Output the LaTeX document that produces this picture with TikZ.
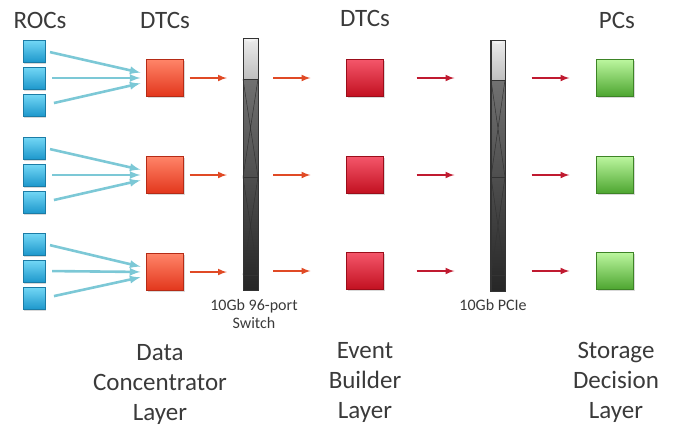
\documentclass[tikz,border=0pt]{standalone}
\usepackage{fontspec}
\setmainfont{Carlito}
\usetikzlibrary{arrows,shadows}
\definecolor{roctop}{HTML}{74D8F6}
\definecolor{rocbot}{HTML}{1E98CC}
\definecolor{rocedge}{HTML}{1B7CA6}
\definecolor{dtctop}{HTML}{FF8468}
\definecolor{dtcbot}{HTML}{E2361C}
\definecolor{ebtop}{HTML}{F4566A}
\definecolor{ebbot}{HTML}{C21020}
\definecolor{pctop}{HTML}{BCF69E}
\definecolor{pcbot}{HTML}{4CA530}
\definecolor{bluearr}{HTML}{7CC8D6}
\definecolor{orarr}{HTML}{E04A25}
\definecolor{redarr}{HTML}{C01A30}
\definecolor{txt}{HTML}{3A3A3A}
\tikzset{
  box/.style={rectangle,inner sep=0pt,line width=0.3pt,
    drop shadow={shadow xshift=1pt,shadow yshift=-1.5pt,opacity=0.3}},
  roc/.style={box,minimum size=22pt,draw=rocedge,top color=roctop,bottom color=rocbot},
  dtc/.style={box,minimum size=37pt,draw=dtcbot!80!black,top color=dtctop,bottom color=dtcbot},
  ebdtc/.style={box,minimum size=37pt,draw=ebbot!80!black,top color=ebtop,bottom color=ebbot},
  pcbox/.style={box,minimum size=37pt,draw=pcbot!80!black,top color=pctop,bottom color=pcbot},
  switchbox/.style={rectangle,inner sep=0pt,minimum width=15pt,draw=black!80,line width=0.4pt,
    top color=black!50,bottom color=black!85},
  swline/.style={black!80,line width=0.5pt},
  blue arrow/.style={bluearr,line width=2.6pt,-latex,shorten >=6pt},
  or arrow/.style={orarr,line width=2pt,-latex},
  red arrow/.style={redarr,line width=2pt,-latex},
  head/.style={text=txt,font=\fontsize{25}{30}\selectfont},
  layer/.style={text=txt,align=center,font=\fontsize{25}{30}\selectfont},
  small/.style={text=txt,align=center,font=\fontsize{16}{18}\selectfont}
}
\begin{document}
\begin{tikzpicture}[x=1pt,y=-1pt]
  \useasboundingbox (0,0) rectangle (688,432);
  % headings
  \node[head] (hroc) at (40,20) {ROCs};
  \node[head] (hdtc) at (165,20) {DTCs};
  \node[head] (heb) at (365,18) {DTCs};
  \node[head] (hpc) at (617,20) {PCs};
  % readout controllers
  \node[roc] (r11) at (34,51) {};
  \node[roc] (r12) at (34,78) {};
  \node[roc] (r13) at (34,105) {};
  \node[roc] (r21) at (34,148) {};
  \node[roc] (r22) at (34,175) {};
  \node[roc] (r23) at (34,202) {};
  \node[roc] (r31) at (34,244) {};
  \node[roc] (r32) at (34,271) {};
  \node[roc] (r33) at (34,298) {};
  % data concentrators
  \node[dtc] (d1) at (165,78) {};
  \node[dtc] (d2) at (165,175) {};
  \node[dtc] (d3) at (165,272) {};
  % event builders
  \node[ebdtc] (e1) at (365,78) {};
  \node[ebdtc] (e2) at (365,175) {};
  \node[ebdtc] (e3) at (365,271) {};
  % storage pcs
  \node[pcbox] (p1) at (615,78) {};
  \node[pcbox] (p2) at (615,175) {};
  \node[pcbox] (p3) at (615,271) {};
  % switches
  \node[switchbox,minimum height=252pt] (sw1) at (250.5,164) {};
  \fill[top color=gray!15,bottom color=gray!50] (243,38) rectangle (258,79);
  \fill[white!90!gray] (243.6,38.4) .. controls (247,43) and (254,43) .. (257.4,38.4) -- cycle;
  \draw[black!80,line width=0.4pt] (243,38) rectangle (258,290);
  \draw[swline] (243,79) -- (258,79) (243,177) -- (258,177) (243,275) -- (258,275);
  \draw[swline] (243,79) -- (258,177) (258,79) -- (243,177);
  \draw[swline] (243,177) -- (258,275) (258,177) -- (243,275);
  \node[switchbox,minimum height=251pt] (sw2) at (498,165.5) {};
  \fill[top color=gray!15,bottom color=gray!50] (491,40) rectangle (505,80);
  \fill[white!90!gray] (491.6,40.4) .. controls (495,45) and (501,45) .. (504.4,40.4) -- cycle;
  \draw[black!80,line width=0.4pt] (491,40) rectangle (505,291);
  \draw[swline] (491,80) -- (505,80) (491,177) -- (505,177) (491,275) -- (505,275);
  \draw[swline] (491,80) -- (505,177) (505,80) -- (491,177);
  \draw[swline] (491,177) -- (505,275) (505,177) -- (491,275);
  \node[small] (lsw1) at (254,314) {10Gb 96-port\\Switch};
  \node[small] (lsw2) at (493,305) {10Gb PCIe};
  % roc links
  \draw[blue arrow,shorten <=5pt] (r11.east) -- ([yshift=4pt]d1.west);
  \draw[blue arrow,shorten <=7pt] (r12.east) -- (d1.west);
  \draw[blue arrow,shorten <=9pt] (r13.east) -- ([yshift=-4pt]d1.west);
  \draw[blue arrow,shorten <=5pt] (r21.east) -- ([yshift=4pt]d2.west);
  \draw[blue arrow,shorten <=7pt] (r22.east) -- (d2.west);
  \draw[blue arrow,shorten <=9pt] (r23.east) -- ([yshift=-4pt]d2.west);
  \draw[blue arrow,shorten <=5pt] (r31.east) -- ([yshift=4pt]d3.west);
  \draw[blue arrow,shorten <=7pt] (r32.east) -- (d3.west);
  \draw[blue arrow,shorten <=9pt] (r33.east) -- ([yshift=-4pt]d3.west);
  % concentrator to switch to builder
  \draw[or arrow,shorten <=6pt,shorten >=16pt] (d1.east) -- (d1.east -| sw1.west);
  \draw[or arrow,shorten <=6pt,shorten >=16pt] (d2.east) -- (d2.east -| sw1.west);
  \draw[or arrow,shorten <=6pt,shorten >=16pt] (d3.east) -- (d3.east -| sw1.west);
  \draw[or arrow,shorten <=15pt,shorten >=36pt] (sw1.east |- e1) -- (e1.west);
  \draw[or arrow,shorten <=15pt,shorten >=36pt] (sw1.east |- e2) -- (e2.west);
  \draw[or arrow,shorten <=15pt,shorten >=36pt] (sw1.east |- e3) -- (e3.west);
  % builder to pcie to pcs
  \draw[red arrow,shorten <=33pt,shorten >=36pt] (e1.east) -- (e1.east -| sw2.west);
  \draw[red arrow,shorten <=33pt,shorten >=36pt] (e2.east) -- (e2.east -| sw2.west);
  \draw[red arrow,shorten <=33pt,shorten >=36pt] (e3.east) -- (e3.east -| sw2.west);
  \draw[red arrow,shorten <=26pt,shorten >=27pt] (sw2.east |- p1) -- (p1.west);
  \draw[red arrow,shorten <=26pt,shorten >=27pt] (sw2.east |- p2) -- (p2.west);
  \draw[red arrow,shorten <=26pt,shorten >=27pt] (sw2.east |- p3) -- (p3.west);
  % layer names
  \node[layer] (ldc) at (160,384) {Data\\Concentrator\\Layer};
  \node[layer] (leb) at (365,382) {Event\\Builder\\Layer};
  \node[layer] (lsd) at (616,382) {Storage\\Decision\\Layer};
\end{tikzpicture}
\end{document}
